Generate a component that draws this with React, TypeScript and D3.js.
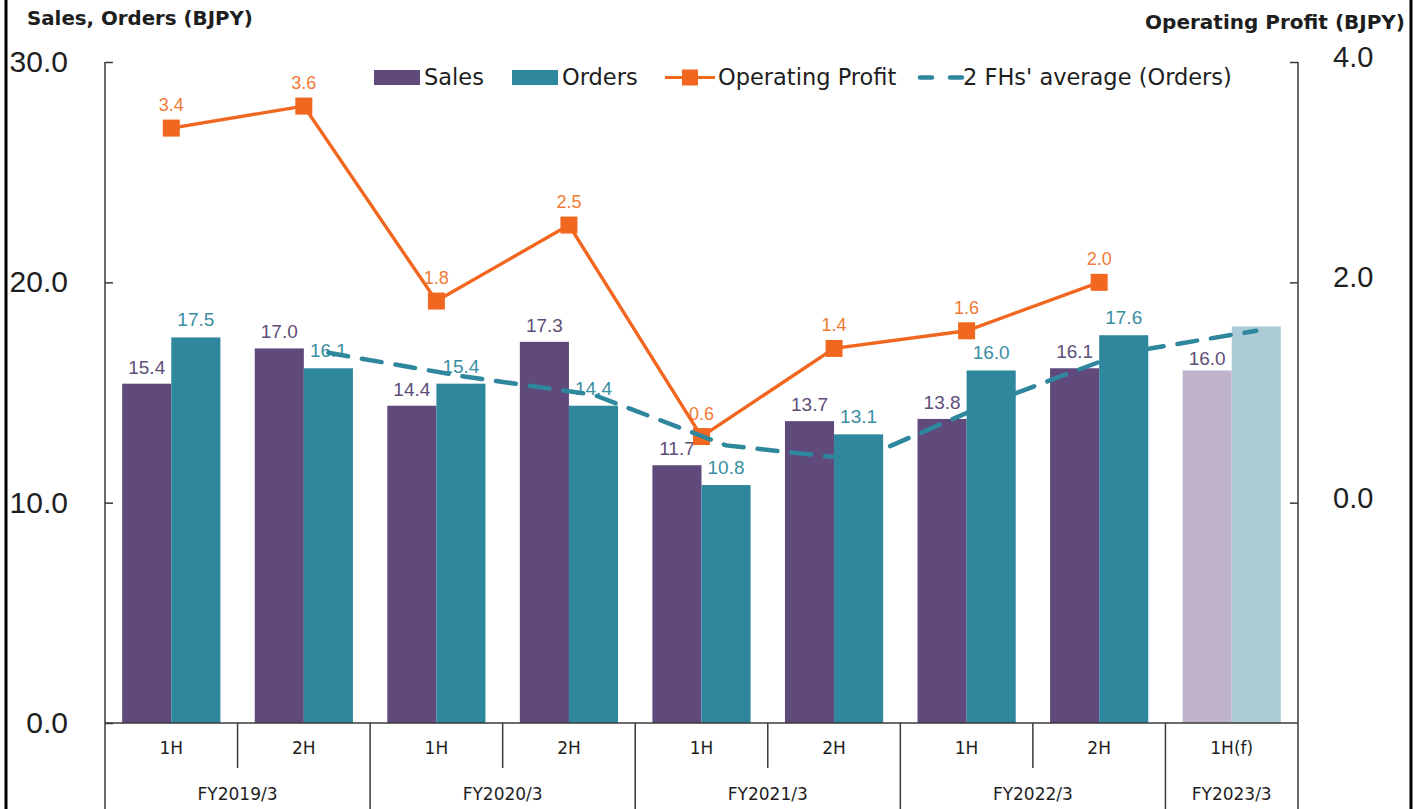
import React, { useEffect, useRef } from "react";
import * as d3 from "d3";

const periods = ["1H", "2H", "1H", "2H", "1H", "2H", "1H", "2H", "1H(f)"];
const fiscalYears = ["FY2019/3", "FY2019/3", "FY2020/3", "FY2020/3", "FY2021/3", "FY2021/3", "FY2022/3", "FY2022/3", "FY2023/3"];
const isForecast = [false, false, false, false, false, false, false, false, true];
const sales = [15.4, 17.0, 14.4, 17.3, 11.7, 13.7, 13.8, 16.1, 16.0];
const orders = [17.5, 16.1, 15.4, 14.4, 10.8, 13.1, 16.0, 17.6, 18.0];
const showOrderLabel = [true, true, true, true, true, true, true, true, false];
const operatingProfit: (number | null)[] = [3.4, 3.6, 1.83, 2.52, 0.6, 1.4, 1.56, 2.0, null];
const avgOrders: (number | null)[] = [null, 16.8, 15.75, 14.9, 12.6, 11.95, 14.55, 16.8, 17.8];
const leftTicks = [0, 10, 20, 30];
const rightTicks = [0, 2, 4];

const W = 1422;
const H = 809;
const plot = { left: 105, right: 1298, top: 62, bottom: 723 };

const C = {
  sales: "#5f4a7b",
  orders: "#2e879d",
  salesF: "#bfb4cc",
  ordersF: "#abccd7",
  op: "#f2671f",
  opLabel: "#f07a35",
  salesLabel: "#5d4e78",
  ordersLabel: "#3a8ea2",
  text: "#1e1e1e",
  axis: "#3a3a3a",
};

const FONT_NUM = "'Liberation Sans', Arial, sans-serif";
const FONT_UI = "'DejaVu Sans', Verdana, sans-serif";

export default function App() {
  const leftRef = useRef<SVGGElement>(null);
  const rightRef = useRef<SVGGElement>(null);

  const idx = periods.map((_, i) => String(i));
  const x0 = d3.scaleBand<string>().domain(idx).range([plot.left, plot.right]).padding(0);
  const x1 = d3.scaleBand<string>().domain(["sales", "orders"]).range([0, x0.bandwidth()]).paddingInner(0).paddingOuter(0.35);
  const yL = d3.scaleLinear().domain([0, 30]).range([plot.bottom, plot.top]);
  const yR = d3.scaleLinear().domain([-2, 4]).range([plot.bottom, plot.top]);

  useEffect(() => {
    const gl = d3.select(leftRef.current!);
    gl.call(
      d3.axisLeft(yL).tickValues(leftTicks).tickSizeInner(-8).tickSizeOuter(0).tickPadding(37).tickFormat(d3.format(".1f")) as any
    );
    gl.select(".domain").remove();
    gl.selectAll("text").attr("font-size", 30).attr("font-family", FONT_NUM).attr("fill", C.text);
    gl.selectAll("line").attr("stroke", C.axis).attr("stroke-width", 1.5);

    const gr = d3.select(rightRef.current!);
    gr.call(
      d3.axisRight(yR).tickValues(rightTicks).tickSizeInner(-8).tickSizeOuter(0).tickPadding(35).tickFormat(d3.format(".1f")) as any
    );
    gr.select(".domain").remove();
    gr.selectAll("text").attr("font-size", 29).attr("font-family", FONT_NUM).attr("fill", C.text).attr("dy", "0.16em");
    gr.selectAll("line").attr("stroke", C.axis).attr("stroke-width", 1.5);
  }, []);

  const cx = (i: number) => x0(String(i))! + x0.bandwidth() / 2;
  const ordersCx = (i: number) => x0(String(i))! + x1("orders")! + x1.bandwidth() / 2;

  const opLine = d3
    .line<number | null>()
    .defined((d) => d !== null)
    .x((_, i) => cx(i))
    .y((d) => yR(d as number));

  const avgLine = d3
    .line<number | null>()
    .defined((d) => d !== null)
    .x((_, i) => ordersCx(i))
    .y((d) => yL(d as number));

  const boundaries = periods.slice(1).map((_, k) => {
    const i = k + 1;
    return { x: x0(String(i))!, yearBreak: fiscalYears[i] !== fiscalYears[i - 1] };
  });
  const years = Array.from(new Set(fiscalYears)).map((fy) => {
    const ids = fiscalYears.map((f, i) => (f === fy ? i : -1)).filter((i) => i >= 0);
    const a = x0(String(ids[0]))!;
    const b = x0(String(ids[ids.length - 1]))! + x0.bandwidth();
    return { fy, x: (a + b) / 2 };
  });

  const fmt = d3.format(".1f");

  return (
    <svg
      width={W}
      height={H}
      style={{ position: "fixed", left: 0, top: 0, background: "#fff", display: "block" }}
    >
      <rect x={0} y={0} width={W} height={H} fill="#fff" />
      <line x1={6} x2={6} y1={0} y2={H} stroke="#000" strokeWidth={3} />
      <line x1={1411} x2={1411} y1={0} y2={H} stroke="#000" strokeWidth={3} />

      <text x={27} y={25} fontFamily={FONT_UI} fontWeight="bold" fontSize={19.8} fill={C.text}>
        Sales, Orders (BJPY)
      </text>
      <text x={1405} y={29} textAnchor="end" fontFamily={FONT_UI} fontWeight="bold" fontSize={20} fill={C.text}>
        Operating Profit (BJPY)
      </text>

      {periods.map((_, i) => {
        const gx = x0(String(i))!;
        return (
          <g key={"b" + i}>
            <rect
              x={gx + x1("sales")!}
              y={yL(sales[i])}
              width={x1.bandwidth()}
              height={yL(0) - yL(sales[i])}
              fill={isForecast[i] ? C.salesF : C.sales}
            />
            <rect
              x={gx + x1("orders")!}
              y={yL(orders[i])}
              width={x1.bandwidth()}
              height={yL(0) - yL(orders[i])}
              fill={isForecast[i] ? C.ordersF : C.orders}
            />
          </g>
        );
      })}

      {periods.map((_, i) => {
        const gx = x0(String(i))!;
        return (
          <g key={"bl" + i} fontFamily={FONT_NUM} fontSize={19} textAnchor="middle">
            <text
              x={gx + x1("sales")! + x1.bandwidth() / 2}
              y={yL(sales[i]) - (isForecast[i] ? 5 : 10)}
              fill={C.salesLabel}
            >
              {fmt(sales[i])}
            </text>
            {showOrderLabel[i] && (
              <text x={gx + x1("orders")! + x1.bandwidth() / 2} y={yL(orders[i]) - 11} fill={C.ordersLabel}>
                {fmt(orders[i])}
              </text>
            )}
          </g>
        );
      })}

      <path d={opLine(operatingProfit) || ""} fill="none" stroke={C.op} strokeWidth={3.4} />
      {operatingProfit.map((v, i) =>
        v === null ? null : (
          <rect key={"m" + i} x={cx(i) - 8.5} y={yR(v) - 8.5} width={17} height={17} fill={C.op} />
        )
      )}

      <path
        d={avgLine(avgOrders) || ""}
        fill="none"
        stroke={C.orders}
        strokeWidth={4.5}
        strokeDasharray="20 14"
        strokeLinecap="round"
      />

      {operatingProfit.map((v, i) =>
        v === null ? null : (
          <text
            key={"ol" + i}
            x={cx(i)}
            y={yR(v) - 17}
            textAnchor="middle"
            fontFamily={FONT_NUM}
            fontSize={18}
            fill={C.opLabel}
          >
            {fmt(v)}
          </text>
        )
      )}

      <line x1={plot.left} x2={plot.left} y1={plot.top} y2={H} stroke={C.axis} strokeWidth={1.5} />
      <line x1={plot.right} x2={plot.right} y1={plot.top} y2={H} stroke={C.axis} strokeWidth={1.5} />
      <line x1={plot.left} x2={plot.right} y1={plot.bottom} y2={plot.bottom} stroke={C.axis} strokeWidth={1.5} />
      <g ref={leftRef} transform={`translate(${plot.left},0)`} />
      <g ref={rightRef} transform={`translate(${plot.right},0)`} />

      {boundaries.map((b, k) => (
        <line
          key={"sep" + k}
          x1={b.x}
          x2={b.x}
          y1={plot.bottom}
          y2={b.yearBreak ? H : plot.bottom + 45}
          stroke={C.axis}
          strokeWidth={1.5}
        />
      ))}
      {periods.map((p, i) => (
        <text
          key={"p" + i}
          x={cx(i)}
          y={plot.bottom + 31}
          textAnchor="middle"
          fontFamily={FONT_UI}
          fontSize={17}
          fill={C.text}
        >
          {p}
        </text>
      ))}
      {years.map((y) => (
        <text
          key={y.fy}
          x={y.x}
          y={plot.bottom + 77}
          textAnchor="middle"
          fontFamily={FONT_UI}
          fontSize={17}
          fill={C.text}
        >
          {y.fy}
        </text>
      ))}

      <g fontFamily={FONT_UI} fontSize={22.5} fill={C.text}>
        <rect x={374} y={70} width={46} height={15} fill={C.sales} />
        <text x={424} y={85}>Sales</text>
        <rect x={512} y={70} width={46} height={15} fill={C.orders} />
        <text x={562} y={85}>Orders</text>
        <line x1={665} x2={715} y1={77.5} y2={77.5} stroke={C.op} strokeWidth={3} />
        <rect x={682} y={69.5} width={16} height={16} fill={C.op} />
        <text x={718} y={85}>Operating Profit</text>
        <line
          x1={918}
          x2={962}
          y1={77.5}
          y2={77.5}
          stroke={C.orders}
          strokeWidth={4.5}
          strokeDasharray="12 18"
          strokeLinecap="round"
          transform="translate(2,0)"
        />
        <text x={963} y={85}>2 FHs' average (Orders)</text>
      </g>
    </svg>
  );
}
